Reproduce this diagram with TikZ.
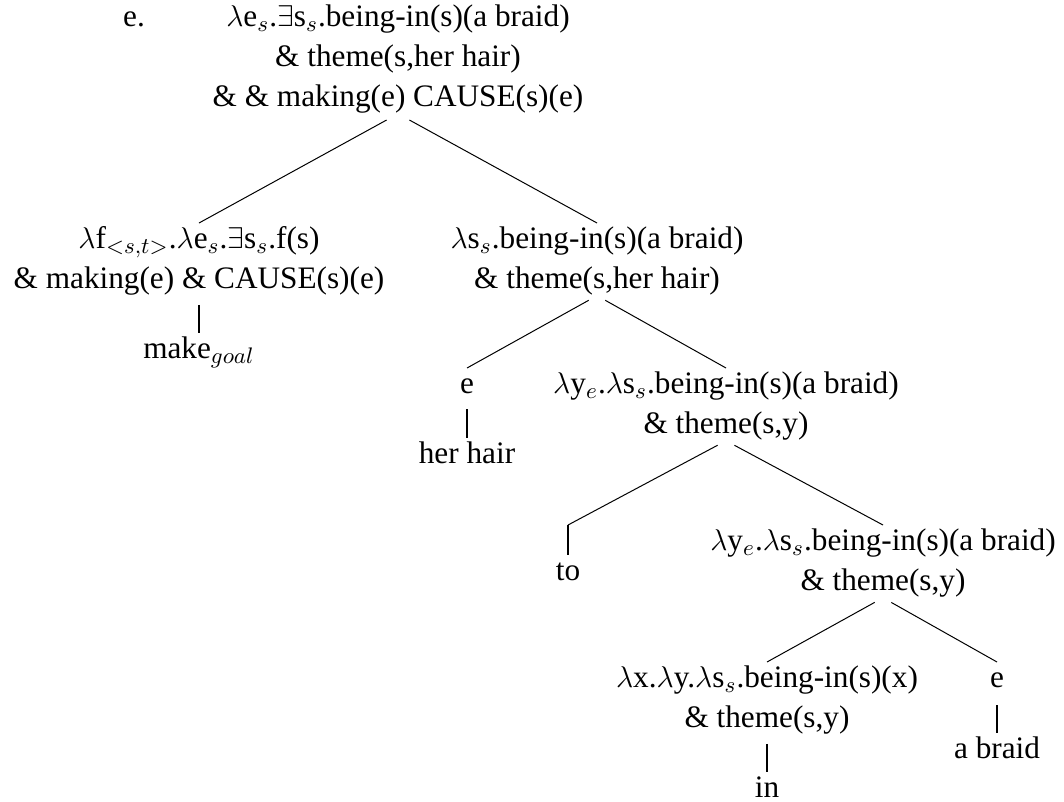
\documentclass[tikz,border=0pt]{standalone}
\usepackage{fontspec}
\setmainfont{Liberation Serif}
\newcommand{\treestrut}{\rule[-2.4pt]{0pt}{12.4pt}}

\begin{document}
\begin{tikzpicture}[x=0.4pt, y=-0.4pt,
    every node/.style={inner sep=0pt, align=center, anchor=north,
        font=\fontsize{12.5}{16}\selectfont},
    branch/.style={line width=0.4pt, shorten <=3.8pt},
    unary/.style={line width=1pt, shorten <=3.6pt}]
    \useasboundingbox (0,0) rectangle (1064,801);
    % Example number
    \node[anchor=base] (exnum) at (134,26) {e.};
    % Root
    \node (root) at (398,1) {\treestrut$\lambda$e$_s$.$\exists$s$_s$.being-in(s)(a braid)\\
        \treestrut\& theme(s,her hair)\\
        \treestrut\& \& making(e) CAUSE(s)(e)};
    % Level 1
    \node (make) at (199,223) {\treestrut$\lambda$f$_{<s,t>}$.$\lambda$e$_s$.$\exists$s$_s$.f(s)\\
        \treestrut\& making(e) \& CAUSE(s)(e)};
    \node (makeleaf) at (199,333) {\treestrut make$_{goal}$};
    \node (theme) at (597,223) {\treestrut$\lambda$s$_s$.being-in(s)(a braid)\\
        \treestrut\& theme(s,her hair)};
    % Level 2
    \node (hair) at (467,368) {\treestrut e};
    \node (hairleaf) at (467,438) {\treestrut her hair};
    \node (themey) at (726,368) {\treestrut$\lambda$y$_e$.$\lambda$s$_s$.being-in(s)(a braid)\\
        \treestrut\& theme(s,y)};
    % Level 3
    \coordinate (totop) at (568,525);
    \node (toleaf) at (568,555) {\treestrut to};
    \node (braidy) at (883,525) {\treestrut$\lambda$y$_e$.$\lambda$s$_s$.being-in(s)(a braid)\\
        \treestrut\& theme(s,y)};
    % Level 4
    \node (inx) at (767,662) {\treestrut$\lambda$x.$\lambda$y.$\lambda$s$_s$.being-in(s)(x)\\
        \treestrut\& theme(s,y)};
    \node (inleaf) at (767,772) {\treestrut in};
    \node (braid) at (997,662) {\treestrut e};
    \node (braidleaf) at (997,733) {\treestrut a braid};

    % Branches
    \draw[branch, shorten <=5.2pt] (root.south) -- (make.north);
    \draw[branch, shorten <=5.2pt] (root.south) -- (theme.north);
    \draw[branch] (theme.south) -- (hair.north);
    \draw[branch] (theme.south) -- (themey.north);
    \draw[branch] (themey.south) -- (totop);
    \draw[branch] (themey.south) -- (braidy.north);
    \draw[branch] (braidy.south) -- (inx.north);
    \draw[branch] (braidy.south) -- (braid.north);
    % Unary branches
    \draw[unary] (make.south) -- (makeleaf.north);
    \draw[unary] (hair.south) -- (hairleaf.north);
    \draw[unary, shorten <=0pt] (totop) -- (toleaf.north);
    \draw[unary] (inx.south) -- (inleaf.north);
    \draw[unary, shorten <=4.4pt] (braid.south) -- (braidleaf.north);
\end{tikzpicture}
\end{document}
